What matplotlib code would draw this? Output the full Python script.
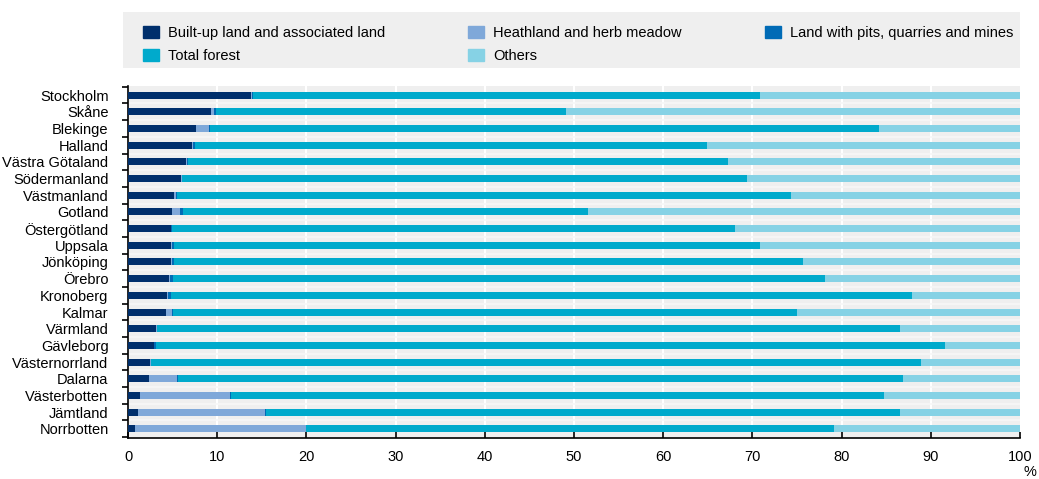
import numpy as np
import matplotlib.pyplot as plt
from matplotlib.patches import Patch, Rectangle

plt.rcParams['font.family'] = ['Liberation Sans', 'DejaVu Sans']
plt.rcParams['font.size'] = 10.5

regions = ['Stockholm', 'Skåne', 'Blekinge', 'Halland', 'Västra Götaland',
           'Södermanland', 'Västmanland', 'Gotland', 'Östergötland', 'Uppsala',
           'Jönköping', 'Örebro', 'Kronoberg', 'Kalmar', 'Värmland', 'Gävleborg',
           'Västernorrland', 'Dalarna', 'Västerbotten', 'Jämtland', 'Norrbotten']

# shares in % of land area
built = [13.8, 9.3, 7.6, 7.2, 6.5, 5.9, 5.2, 4.9, 4.8, 4.8,
         4.8, 4.6, 4.4, 4.3, 3.1, 2.9, 2.5, 2.4, 1.4, 1.1, 0.8]
heath = [0.1, 0.3, 1.5, 0.1, 0.1, 0.1, 0.2, 0.9, 0.05, 0.1,
         0.1, 0.1, 0.05, 0.6, 0.1, 0.05, 0.05, 3.1, 10.0, 14.3, 19.1]
pits = [0.1, 0.3, 0.05, 0.2, 0.1, 0.1, 0.1, 0.4, 0.1, 0.3,
        0.3, 0.3, 0.4, 0.1, 0.1, 0.15, 0.05, 0.15, 0.1, 0.1, 0.1]
forest_end = [70.9, 49.1, 84.2, 64.9, 67.3, 69.4, 74.3, 51.6, 68.1, 70.9,
              75.7, 78.1, 87.9, 75.0, 86.6, 91.6, 88.9, 86.9, 84.8, 86.6, 79.2]

built = np.array(built)
heath = np.array(heath)
pits = np.array(pits)
forest_end = np.array(forest_end)
forest = forest_end - built - heath - pits
others = 100 - forest_end

c_built = '#002F6C'
c_heath = '#7FA8D9'
c_pits = '#006BB6'
c_forest = '#00AACC'
c_others = '#86D2E5'

fig = plt.figure(figsize=(10.39, 4.79), dpi=100)
ax = fig.add_axes([0.1232, 0.0856, 0.8585, 0.735])
ax.set_facecolor('#EFEFEF')

y = np.arange(len(regions))
h = 0.42
left = np.zeros(len(regions))
for vals, col in [(built, c_built), (heath, c_heath), (pits, c_pits),
                  (forest, c_forest), (others, c_others)]:
    ax.barh(y, vals, left=left, height=h, color=col, zorder=3)
    left = left + vals

ax.set_xlim(0, 100)
ax.set_ylim(len(regions) - 0.45, -0.55)
ax.set_xticks(np.arange(0, 101, 10))
ax.set_yticks(y)
ax.set_yticklabels(regions)
ax.set_yticks(np.arange(-0.5, len(regions), 1), minor=True)

for xv in np.arange(10, 100, 10):
    ax.axvline(xv, color='white', lw=1.5, zorder=1)
for yv in np.arange(0.5, len(regions) - 1, 1):
    ax.axhline(yv, color='#F7F7F7', lw=1.2, zorder=1)

ax.tick_params(axis='y', which='major', length=0, pad=14)
ax.tick_params(axis='y', which='minor', length=4, width=1.2, direction='out')
ax.tick_params(axis='x', which='major', length=4, width=1.2, direction='in', pad=9)

for s in ['top', 'right']:
    ax.spines[s].set_visible(False)
ax.spines['left'].set_linewidth(1.2)
ax.spines['bottom'].set_linewidth(1.2)

fig.text(0.9915, 0.029, '%', ha='center', va='top')

# legend background box
fig.patches.append(Rectangle((123 / 1039, 1 - 68 / 479), 897 / 1039, 56 / 479,
                             transform=fig.transFigure, facecolor='#EFEFEF',
                             edgecolor='none', zorder=0))

handles = [Patch(color=c_built, label='Built-up land and associated land'),
           Patch(color=c_forest, label='Total forest'),
           Patch(color=c_heath, label='Heathland and herb meadow'),
           Patch(color=c_others, label='Others'),
           Patch(color=c_pits, label='Land with pits, quarries and mines')]
leg = fig.legend(handles=handles, ncol=3, loc='center',
                 bbox_to_anchor=(143 / 1039, 1 - 73 / 479, 870 / 1039, 57 / 479),
                 mode='expand', frameon=False, borderaxespad=0, borderpad=0,
                 handlelength=1.1, handleheight=0.9, handletextpad=0.6,
                 labelspacing=0.65, fontsize=10.5)

fig.savefig('out.png', dpi=100)
